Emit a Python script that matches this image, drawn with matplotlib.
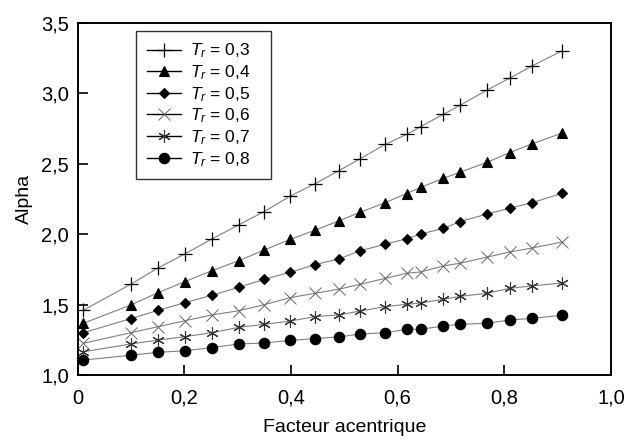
import numpy as np
import matplotlib
matplotlib.use("Agg")
import matplotlib.pyplot as plt
from matplotlib.lines import Line2D
from matplotlib.ticker import FixedLocator

plt.rcParams['font.family'] = ['Liberation Sans', 'DejaVu Sans']
plt.rcParams['mathtext.fontset'] = 'custom'
plt.rcParams['mathtext.it'] = 'Liberation Sans:italic'
plt.rcParams['mathtext.rm'] = 'Liberation Sans'

# Facteur acentrique (abscisses des points)
omega = [0.011, 0.10, 0.151, 0.201, 0.252, 0.302, 0.35, 0.399, 0.445, 0.49,
         0.53, 0.577, 0.617, 0.643, 0.686, 0.717, 0.768, 0.81, 0.852, 0.909]

# Alpha pour chaque temperature reduite
alpha_03 = [1.46, 1.644, 1.76, 1.859, 1.965, 2.065, 2.16, 2.27, 2.357, 2.45,
            2.535, 2.637, 2.708, 2.762, 2.85, 2.914, 3.023, 3.106, 3.193, 3.302]
alpha_04 = [1.367, 1.497, 1.584, 1.662, 1.74, 1.811, 1.887, 1.963, 2.027, 2.094,
            2.155, 2.223, 2.288, 2.331, 2.396, 2.439, 2.51, 2.578, 2.64, 2.718]
alpha_05 = [1.30, 1.40, 1.459, 1.513, 1.566, 1.622, 1.679, 1.729, 1.783, 1.824,
            1.882, 1.928, 1.967, 2.0, 2.041, 2.088, 2.143, 2.183, 2.223, 2.29]
alpha_06 = [1.225, 1.30, 1.343, 1.385, 1.426, 1.456, 1.499, 1.549, 1.58, 1.609,
            1.644, 1.686, 1.722, 1.731, 1.774, 1.793, 1.837, 1.873, 1.901, 1.944]
alpha_07 = [1.165, 1.22, 1.248, 1.272, 1.30, 1.338, 1.36, 1.383, 1.414, 1.427,
            1.454, 1.485, 1.502, 1.511, 1.537, 1.558, 1.58, 1.615, 1.632, 1.653]
alpha_08 = [1.106, 1.14, 1.161, 1.172, 1.194, 1.22, 1.227, 1.246, 1.258, 1.27,
            1.291, 1.30, 1.324, 1.324, 1.348, 1.36, 1.367, 1.39, 1.402, 1.424]

labels = ['0,3', '0,4', '0,5', '0,6', '0,7', '0,8']
series = [alpha_03, alpha_04, alpha_05, alpha_06, alpha_07, alpha_08]

xticks = [0, 0.2, 0.4, 0.6, 0.8, 1.0]
xticklabels = ['0', '0,2', '0,4', '0,6', '0,8', '1,0']
yticks = [1.0, 1.5, 2.0, 2.5, 3.0, 3.5]
yticklabels = ['1,0', '1,5', '2,0', '2,5', '3,0', '3,5']

# style des marqueurs : (marker, size, couleur marqueur, epaisseur)
styles = [('+', 10, 'black', 0.9),
          ('^', 7.5, 'black', 0.8),
          ('D', 5.5, 'black', 0.8),
          ('x', 8, '#666666', 0.7),
          ((6, 2, 0), 9, '#333333', 0.8),
          ('o', 7.5, 'black', 0.8)]

fig = plt.figure(figsize=(6.25, 4.42), dpi=100)
ax = fig.add_axes([0.124, 0.1516, 0.8536, 0.797])

handles = []
for y, lab, (mk, ms, mc, mew) in zip(series, labels, styles):
    ax.plot(omega, y, color='#808080', lw=0.8, marker=mk, ms=ms,
            mfc=mc, mec=mc, mew=mew)
    handles.append(Line2D([], [], color='black', lw=1.0, marker=mk, ms=ms,
                          mfc=mc, mec=mc, mew=mew,
                          label=r'$T_r$' + ' = ' + lab + '   '))

ax.set_xlim(0, 1.0)
ax.set_ylim(1.0, 3.5)
ax.xaxis.set_major_locator(FixedLocator(xticks))
ax.yaxis.set_major_locator(FixedLocator(yticks))
ax.set_xticklabels(xticklabels)
ax.set_yticklabels(yticklabels)
ax.tick_params(direction='in', length=7, width=1.2, labelsize=14.5)
ax.tick_params(axis='x', pad=10)
ax.tick_params(axis='y', pad=6)
for s in ax.spines.values():
    s.set_linewidth(1.4)

ax.set_xlabel('Facteur acentrique', fontsize=14, labelpad=8)
ax.set_ylabel('Alpha', fontsize=14, labelpad=6)

leg = ax.legend(handles=handles, loc='upper left', bbox_to_anchor=(0.11, 0.976),
                borderaxespad=0, fontsize=12.5, frameon=True, fancybox=False,
                edgecolor='black', handlelength=2.0, labelspacing=0.17,
                borderpad=0.6, handletextpad=0.5)
leg.get_frame().set_linewidth(1.0)

fig.savefig('out.png', dpi=100)
